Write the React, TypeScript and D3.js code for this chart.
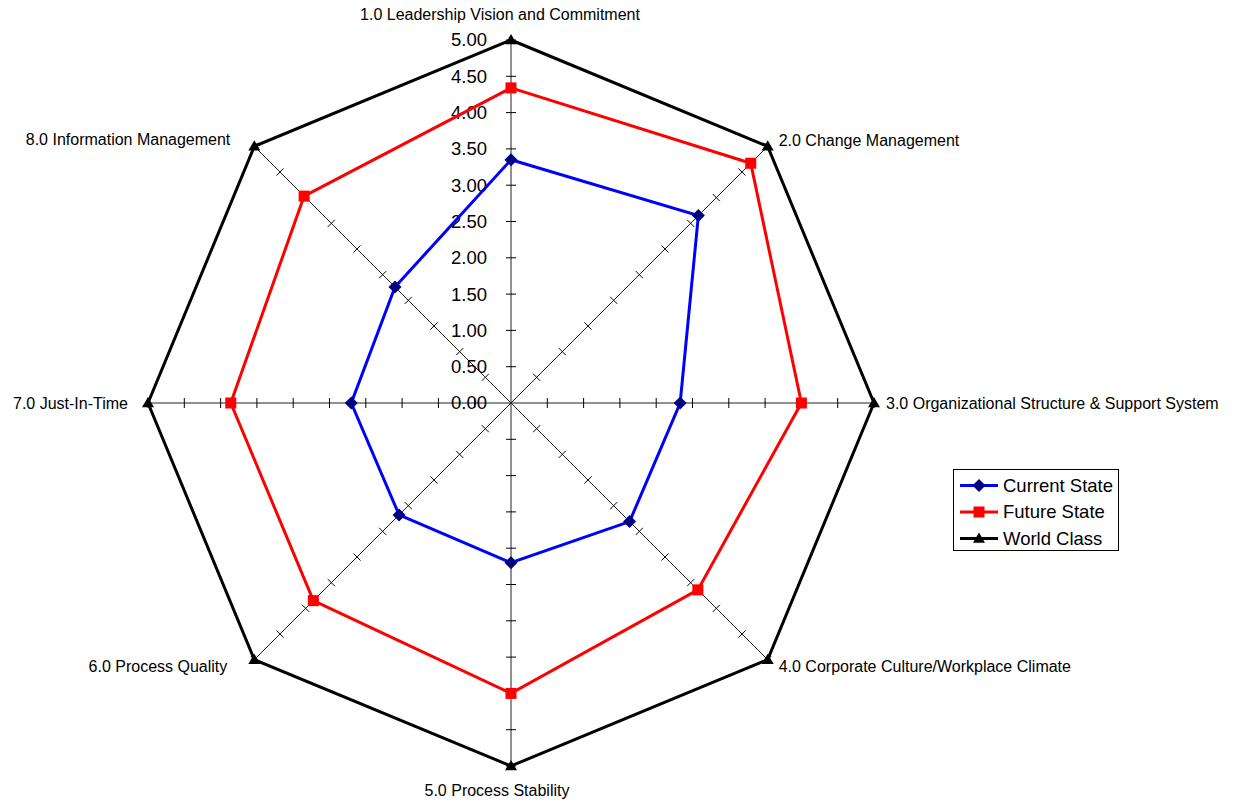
import { useMemo } from "react";
import * as d3 from "d3";

const categories = [
  "1.0 Leadership Vision and Commitment",
  "2.0 Change Management",
  "3.0 Organizational Structure & Support System",
  "4.0 Corporate Culture/Workplace Climate",
  "5.0 Process Stability",
  "6.0 Process Quality",
  "7.0 Just-In-Time",
  "8.0 Information Management",
];

const currentState = [3.35, 3.65, 2.33, 2.31, 2.2, 2.18, 2.2, 2.26];
const futureState = [4.34, 4.67, 4.0, 3.64, 4.0, 3.85, 3.86, 4.03];
const worldClass = [5, 5, 5, 5, 5, 5, 5, 5];

const tickValues = [0, 0.5, 1, 1.5, 2, 2.5, 3, 3.5, 4, 4.5, 5];

const seriesNames = ["Current State", "Future State", "World Class"];

const FONT = "'Liberation Sans', Arial, sans-serif";

function Marker({ kind, x, y, color }: { kind: string; x: number; y: number; color: string }) {
  if (kind === "diamond") {
    const s = 6.5;
    return <path d={`M${x},${y - s}L${x + s},${y}L${x},${y + s}L${x - s},${y}Z`} fill={color} />;
  }
  if (kind === "square") {
    const s = 5.5;
    return <rect x={x - s} y={y - s} width={2 * s} height={2 * s} fill={color} />;
  }
  const s = 6;
  return <path d={`M${x},${y - s}L${x + s},${y + s * 0.7}L${x - s},${y + s * 0.7}Z`} fill={color} />;
}

export default function App() {
  const cx = 511;
  const cy = 403;
  const r = d3.scaleLinear().domain([0, 5]).range([0, 363]);
  const n = categories.length;
  const angle = (i: number) => (i * 2 * Math.PI) / n;
  const pt = (i: number, v: number): [number, number] => [
    cx + r(v) * Math.sin(angle(i)),
    cy - r(v) * Math.cos(angle(i)),
  ];

  const series = useMemo(
    () => [
      { name: seriesNames[0], values: currentState, line: "#0000ff", mark: "#000080", kind: "diamond" },
      { name: seriesNames[1], values: futureState, line: "#ff0000", mark: "#ff0000", kind: "square" },
      { name: seriesNames[2], values: worldClass, line: "#000000", mark: "#000000", kind: "triangle" },
    ],
    []
  );

  const lineGen = d3.line<[number, number]>().curve(d3.curveLinearClosed);

  const labelPos: { dx: number; dy: number; anchor: string }[] = [
    { dx: -11, dy: -26, anchor: "middle" },
    { dx: 11, dy: -6, anchor: "start" },
    { dx: 12, dy: 0, anchor: "start" },
    { dx: 11, dy: 7, anchor: "start" },
    { dx: -14, dy: 24, anchor: "middle" },
    { dx: -27, dy: 7, anchor: "end" },
    { dx: -20, dy: 0, anchor: "end" },
    { dx: -24, dy: -7, anchor: "end" },
  ];

  return (
    <svg width={1235} height={804} style={{ position: "absolute", left: 0, top: 0 }} fontFamily={FONT}>
      <rect width={1235} height={804} fill="#fff" />
      {/* spokes with ticks */}
      {categories.map((_, i) => {
        const [x2, y2] = pt(i, 5);
        const a = angle(i);
        const px = Math.cos(a);
        const py = Math.sin(a);
        return (
          <g key={`axis-${i}`}>
            <line x1={cx} y1={cy} x2={x2} y2={y2} stroke="#222" strokeWidth={1} />
            {tickValues.slice(1).map((t) => {
              const [tx, ty] = pt(i, t);
              return (
                <line
                  key={t}
                  x1={tx - px * 5}
                  y1={ty - py * 5}
                  x2={tx + px * 5}
                  y2={ty + py * 5}
                  stroke="#000"
                  strokeWidth={1}
                />
              );
            })}
          </g>
        );
      })}
      {/* axis value labels */}
      {tickValues.map((t) => (
        <text
          key={`tl-${t}`}
          x={487}
          y={cy - r(t)}
          dy="0.35em"
          textAnchor="end"
          fontSize={18.5}
          fill="#000"
        >
          {t.toFixed(2)}
        </text>
      ))}
      {/* series */}
      {series.map((s) => {
        const pts = s.values.map((v, i) => pt(i, v));
        return (
          <g key={s.name}>
            <path d={lineGen(pts) ?? ""} fill="none" stroke={s.line} strokeWidth={3} strokeLinejoin="miter" />
            {pts.map(([x, y], i) => (
              <Marker key={i} kind={s.kind} x={x} y={y} color={s.mark} />
            ))}
          </g>
        );
      })}
      {/* category labels */}
      {categories.map((c, i) => {
        const [x, y] = pt(i, 5);
        const p = labelPos[i];
        return (
          <text
            key={c}
            x={x + p.dx}
            y={y + p.dy}
            dy="0.35em"
            textAnchor={p.anchor}
            fontSize={16}
            fill="#000"
          >
            {c}
          </text>
        );
      })}
      {/* legend */}
      <g>
        <rect x={953.5} y={469.5} width={165} height={81} fill="#fff" stroke="#000" strokeWidth={1} />
        {series.map((s, i) => {
          const y = 485.5 + i * 26.5;
          return (
            <g key={`lg-${s.name}`}>
              <line x1={960} y1={y} x2={998} y2={y} stroke={s.line} strokeWidth={3} />
              <Marker kind={s.kind} x={979} y={y} color={s.mark} />
              <text x={1003} y={y} dy="0.35em" fontSize={18.5} fill="#000">
                {s.name}
              </text>
            </g>
          );
        })}
      </g>
    </svg>
  );
}
